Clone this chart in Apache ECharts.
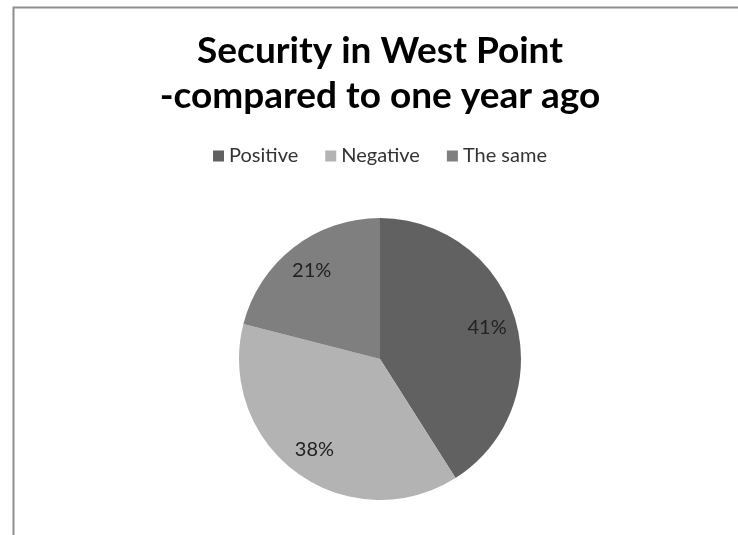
<!DOCTYPE html>
<html>
<head>
<meta charset="utf-8">
<script src="https://cdn.jsdelivr.net/npm/echarts@6/dist/echarts.min.js"></script>
<style>
html,body{margin:0;padding:0;background:#fff;overflow:hidden;}
#chart{width:760px;height:535px;}
</style>
</head>
<body>
<div id="chart"></div>
<script>
const titleLines = ['Security in West Point', '-compared to one year ago'];
const categories = ['Positive', 'Negative', 'The same'];
const values = [41, 38, 21];
const colors = ['#616161', '#b3b3b3', '#7f7f7f'];

const chart = echarts.init(document.getElementById('chart'));
const fontFamily = 'Lato, "Open Sans", sans-serif';

const mainData = categories.map((name, i) => ({
  name: name,
  value: values[i],
  itemStyle: { color: colors[i] }
}));
const labelData = categories.map((name, i) => ({
  name: name,
  value: values[i]
}));

chart.setOption({
  animation: false,
  backgroundColor: '#ffffff',
  graphic: [{
    type: 'rect',
    shape: { x: 13.5, y: 7.5, width: 900, height: 700 },
    style: { fill: 'none', stroke: '#8e8e8e', lineWidth: 2 },
    silent: true,
    z: -10
  }],
  title: {
    text: titleLines.join('\n'),
    left: 'center',
    top: 24,
    textStyle: {
      fontFamily: fontFamily,
      fontSize: 37,
      fontWeight: 'bold',
      color: '#000000',
      lineHeight: 45
    }
  },
  legend: {
    data: categories,
    top: 141,
    left: 'center',
    icon: 'rect',
    itemWidth: 11,
    itemHeight: 11,
    itemGap: 27,
    textStyle: {
      fontFamily: fontFamily,
      fontSize: 20,
      color: '#333333'
    }
  },
  series: [
    {
      type: 'pie',
      name: 'main',
      center: [380, 359],
      radius: 141,
      startAngle: 90,
      clockwise: true,
      label: { show: false },
      labelLine: { show: false },
      emphasis: { disabled: true },
      data: mainData
    },
    {
      type: 'pie',
      name: 'labels',
      center: [380, 359],
      radius: [76, 141],
      startAngle: 90,
      clockwise: true,
      silent: true,
      z: 5,
      itemStyle: { color: 'rgba(0,0,0,0)' },
      label: {
        show: true,
        position: 'inside',
        formatter: '{d}%',
        fontFamily: fontFamily,
        fontSize: 20,
        color: '#222222'
      },
      labelLine: { show: false },
      emphasis: { disabled: true },
      data: labelData
    }
  ]
});
</script>
</body>
</html>
